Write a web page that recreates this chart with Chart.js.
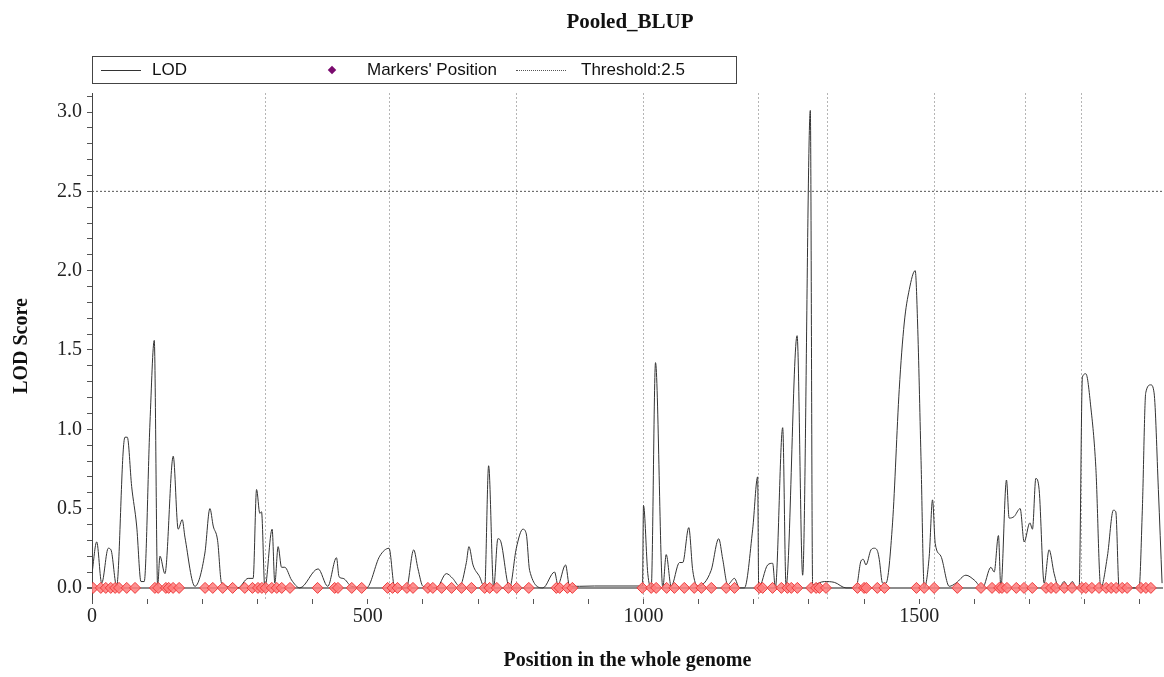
<!DOCTYPE html>
<html>
<head>
<meta charset="utf-8">
<script src="https://cdn.jsdelivr.net/npm/chart.js@4.4.1/dist/chart.umd.min.js"></script>
<style>
  body { margin: 0; background: #fff; overflow: hidden; }
  #wrap { position: relative; width: 1164px; height: 677px; }
  #title { position: absolute; left: 0; width: 1260px; top: 9px; text-align: center;
           font: bold 21px 'Liberation Serif', serif; color: #111; }
  #legend { position: absolute; left: 92px; top: 56px; width: 643px; height: 26px;
            border: 1px solid #444; font: 17px 'Liberation Sans', Arial, sans-serif; color: #111; }
  #legend span { position: absolute; top: 3px; white-space: nowrap; }
  .sample { position: absolute; top: 13px; height: 0; }
  .diamond { position: absolute; top: 10px; width: 6px; height: 6px; background: #7a0a6e; transform: rotate(45deg); }
</style>
</head>
<body>
<div id="wrap">
  <canvas id="lodChart"></canvas>
  <div id="title">Pooled_BLUP</div>
  <div id="legend">
    <div class="sample" style="left:8px;width:40px;border-top:1px solid #333;"></div>
    <span style="left:59px;">LOD</span>
    <div class="diamond" style="left:236px;"></div>
    <span style="left:274px;">Markers' Position</span>
    <div class="sample" style="left:423px;width:50px;border-top:1px dotted #555;"></div>
    <span style="left:488px;">Threshold:2.5</span>
  </div>
</div>
<script>
"use strict";

// LOD profile along the genome (position, score)
var lodPos = [0, 8.5, 17.6, 29.5, 34.4, 44.7, 56.7, 59.8, 64, 71.9, 81, 88.8, 94.7, 105.1, 112.9, 119, 123.2, 132.2,
  147.3, 156.3, 163.6, 168.5, 186.6, 204.7, 213.8, 219.8, 227.7, 235, 264.5, 283.2, 292.2, 298.4, 304.3, 307.4, 313.4,
  326.6, 331.5, 337.5, 343.7, 349.6, 361.8, 376.8, 410, 427.5, 443.3, 448, 455.3, 470.5, 497.6, 521.7, 538.6, 548.9,
  570.1, 583.3, 591.1, 600.2, 624.5, 642.6, 654, 666.7, 678.8, 683.5, 690.8, 702.9, 712, 719.2, 728.3, 736, 740.4,
  757.2, 769.4, 781.3, 787.5, 793.5, 817.6, 838.8, 844.8, 858.7, 865.9, 884, 911.2, 998.2, 1000, 1007.8, 1014, 1021.8,
  1035, 1041.2, 1050.2, 1065.3, 1071.2, 1082.1, 1089.3, 1098.4, 1122.6, 1136.4, 1143.7, 1152.7, 1164.9, 1174, 1183,
  1198, 1207, 1208.9, 1225.2, 1234.2, 1239.1, 1252.4, 1258.5, 1278.5, 1288.6, 1302.5, 1306.7, 1327.9, 1346, 1367.2,
  1385.3, 1394.4, 1398.5, 1403.4, 1412.5, 1418.5, 1424.5, 1427.5, 1433.5, 1439.6, 1451.6, 1463.7, 1472.8, 1481.9,
  1492.7, 1497, 1503.1, 1509.1, 1518.1, 1524.1, 1529, 1539.3, 1554.4, 1566.5, 1584.6, 1599.6, 1614.7, 1629.9, 1635.9,
  1643.6, 1648, 1658.2, 1663, 1672.1, 1683, 1690.2, 1700.6, 1705.3, 1711.4, 1717.4, 1726.5, 1735.5, 1744.6, 1753.6,
  1762.7, 1769.9, 1777.8, 1784.5, 1789.9, 1795.9, 1802.1, 1811.1, 1820.2, 1829.2, 1841.2, 1852, 1856.4, 1862.4,
  1898.6, 1904.5, 1910.7, 1919.8, 1925.8, 1933.6, 1940.3];
var lodVal = [0.09, 0.29, 0.03, 0.25, 0.24, 0.01, 0.87, 0.95, 0.95, 0.64, 0.39, 0.04, 0.04, 1.04, 1.56, 0.01, 0.2, 0.09,
  0.83, 0.37, 0.43, 0.32, 0.01, 0.22, 0.5, 0.39, 0.3, 0.03, 0, 0.06, 0.06, 0.62, 0.47, 0.48, 0,
  0.37, 0.03, 0.26, 0.13, 0.13, 0.05, 0, 0.12, 0.01, 0.19, 0.07, 0.06, 0.01, 0, 0.2, 0.25, 0,
  0, 0.24, 0.12, 0.01, 0, 0.09, 0.06, 0.01, 0.16, 0.26, 0.145, 0.07, 0, 0.77, 0, 0.31, 0.3,
  0, 0.25, 0.37, 0.34, 0.11, 0, 0.1, 0.02, 0.145, 0.01, 0.01, 0.012, 0.012, 0.52, 0.09, 0, 1.42,
  0, 0.21, 0.01, 0.16, 0.16, 0.38, 0.11, 0.01, 0.11, 0.31, 0.18, 0.02, 0.06, 0, 0,
  0.37, 0.7, 0, 0.145, 0.155, 0, 1.01, 0.01, 1.59, 0.08, 3.01, 0.02, 0.04, 0.035, 0,
  0, 0.17, 0.18, 0.145, 0.24, 0.25, 0.23, 0.18, 0.03, 0.03, 0.41, 1.25, 1.67, 1.88,
  2.0, 1.67, 0.83, 0, 0.2, 0.555, 0.28, 0.2, 0.01, 0.03, 0.08, 0.05, 0, 0.13, 0.1,
  0.33, 0, 0.68, 0.44, 0.45, 0.5, 0.29, 0.41, 0.37, 0.69, 0.62, 0.03, 0.24, 0.09, 0,
  0.04, 0.01, 0.04, 0, 0, 1.33, 1.35, 1.14, 0.76, 0, 0.2, 0.49, 0.48, 0,
  0, 0.49, 1.23, 1.28, 1.23, 0.62, 0.03];

// marker positions
var markerPos = [2, 16, 25, 34, 42, 49, 63, 78, 114, 120, 134, 139, 147, 158, 205, 219, 237, 255, 277, 291, 301, 308,
  315, 326, 335, 344, 359, 409, 440, 446, 471, 489, 536, 545, 554, 571, 582, 609, 618, 634, 652, 670, 688, 712, 721,
  734, 755, 770, 792, 842, 848, 862, 871, 998, 1014, 1023, 1042, 1056, 1074, 1092, 1105, 1123, 1150, 1165, 1210,
  1216, 1234, 1250, 1261, 1268, 1279, 1304, 1313, 1319, 1331, 1388, 1400, 1404, 1424, 1437, 1495, 1509, 1527, 1569,
  1612, 1632, 1645, 1650, 1659, 1676, 1690, 1705, 1730, 1739, 1748, 1763, 1777, 1795, 1802, 1813, 1826, 1839, 1848,
  1857, 1868, 1877, 1902, 1911, 1920];

// chromosome boundaries (dotted verticals)
var chromBounds = [313, 538, 768, 1000, 1208, 1332, 1527, 1692, 1793];

var threshold = 2.5;
var xRange = [0, 1942];
var yRange = [-0.07, 3.12];
var xTickVals = [0, 100, 200, 300, 400, 500, 600, 700, 800, 900, 1000, 1100, 1200, 1300, 1400, 1500, 1600, 1700, 1800, 1900];
var yTickVals = [0, 0.1, 0.2, 0.3, 0.4, 0.5, 0.6, 0.7, 0.8, 0.9, 1.0, 1.1, 1.2, 1.3, 1.4, 1.5, 1.6, 1.7, 1.8, 1.9,
  2.0, 2.1, 2.2, 2.3, 2.4, 2.5, 2.6, 2.7, 2.8, 2.9, 3.0, 3.1];

var boundaryLines = {
  id: 'boundaryLines',
  beforeDatasetsDraw: function (chart) {
    var ctx = chart.ctx, xs = chart.scales.x, area = chart.chartArea;
    ctx.save();
    ctx.strokeStyle = '#b5b5b5';
    ctx.lineWidth = 1;
    ctx.setLineDash([2, 2]);
    chromBounds.forEach(function (v) {
      var px = Math.round(xs.getPixelForValue(v)) + 0.5;
      ctx.beginPath();
      ctx.moveTo(px, area.top);
      ctx.lineTo(px, area.bottom);
      ctx.stroke();
    });
    ctx.restore();
  }
};

var serif = "'Liberation Serif', 'Times New Roman', serif";

var ctx = document.getElementById('lodChart');
var chart = new Chart(ctx, {
  type: 'scatter',
  data: {
    datasets: [{
      label: "Markers' Position",
      data: markerPos.map(function (p) { return { x: p, y: 0 }; }),
      pointStyle: 'rectRot',
      pointRadius: 5.5,
      pointBackgroundColor: 'rgba(255,125,125,0.85)',
      pointBorderColor: '#ee3b3b',
      pointBorderWidth: 1,
      order: 0
    }, {
      label: 'LOD',
      data: lodPos.map(function (p, i) { return { x: p, y: lodVal[i] }; }),
      showLine: true,
      borderColor: '#333',
      borderWidth: 1,
      pointRadius: 0,
      cubicInterpolationMode: 'monotone',
      order: 1
    }, {
      label: 'Threshold:2.5',
      data: [{ x: xRange[0], y: threshold }, { x: xRange[1], y: threshold }],
      showLine: true,
      borderColor: '#555',
      borderWidth: 1,
      borderDash: [2, 2],
      pointRadius: 0,
      order: 2
    }]
  },
  options: {
    responsive: true,
    maintainAspectRatio: false,
    animation: false,
    layout: { autoPadding: false, padding: { top: 93, right: 1, left: 0, bottom: 0 } },
    plugins: {
      legend: { display: false },
      tooltip: { enabled: false }
    },
    scales: {
      x: {
        type: 'linear',
        min: xRange[0],
        max: xRange[1],
        afterBuildTicks: function (scale) {
          scale.ticks = xTickVals.map(function (v) { return { value: v }; });
        },
        afterFit: function (scale) { scale.height = 78; },
        border: { display: false },
        grid: { drawOnChartArea: false, tickLength: 5, color: '#555' },
        ticks: {
          autoSkip: false,
          maxRotation: 0,
          padding: 1,
          color: '#222',
          font: { family: serif, size: 20 },
          callback: function (v) { return v % 500 === 0 ? String(v) : ''; }
        },
        title: {
          display: true,
          text: 'Position in the whole genome',
          color: '#111',
          font: { family: serif, size: 20, weight: 'bold' },
          padding: { top: 0, bottom: 4 }
        }
      },
      y: {
        min: yRange[0],
        max: yRange[1],
        afterBuildTicks: function (scale) {
          scale.ticks = yTickVals.map(function (v) { return { value: v }; });
        },
        afterFit: function (scale) { scale.width = 92; },
        border: { display: true, color: '#444' },
        grid: {
          tickLength: 5,
          tickColor: '#555',
          color: function (c) { return c.tick && c.tick.value === 0 ? '#8c8c8c' : 'rgba(0,0,0,0)'; },
          lineWidth: function (c) { return c.tick && c.tick.value === 0 ? 2 : 1; }
        },
        ticks: {
          autoSkip: false,
          padding: 5,
          color: '#222',
          font: { family: serif, size: 20 },
          callback: function (v) {
            return Math.abs(v * 2 - Math.round(v * 2)) < 1e-6 ? v.toFixed(1) : '';
          }
        },
        title: {
          display: true,
          text: 'LOD Score',
          color: '#111',
          font: { family: serif, size: 20, weight: 'bold' },
          padding: { top: 10, bottom: 0 }
        }
      }
    }
  },
  plugins: [boundaryLines]
});
</script>
</body>
</html>
